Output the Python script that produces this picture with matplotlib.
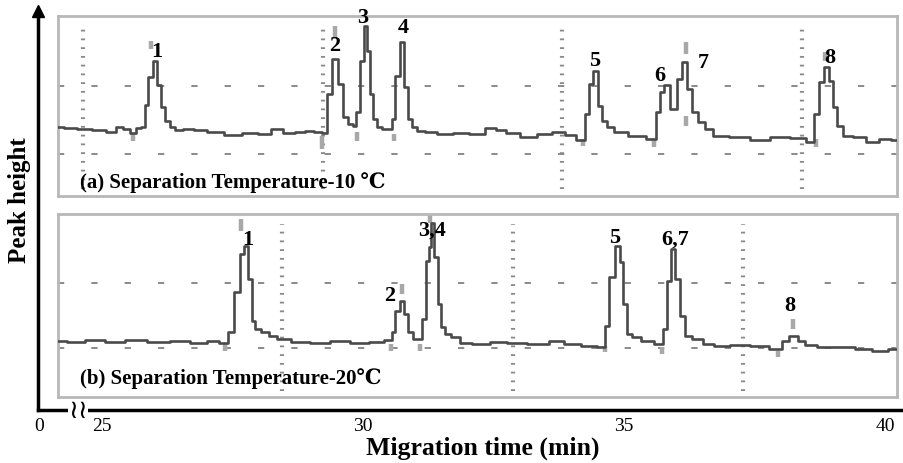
import matplotlib.pyplot as plt

plt.rcParams['font.family'] = ['Liberation Serif', 'DejaVu Serif', 'DejaVu Sans']
plt.rcParams['lines.scale_dashes'] = False

# (a) separation temperature 10 C : migration time (min) / signal (a.u.)
t_a = [24.16, 24.39, 24.67, 24.96, 25.19, 25.34, 25.48, 25.59, 25.71, 25.79,
       25.84, 25.92, 26.02, 26.09, 26.17, 26.25, 26.34, 26.46, 26.63, 26.88,
       27.16, 27.51, 27.84, 28.12, 28.35, 28.60, 28.79, 28.98, 29.14, 29.27,
       29.35, 29.46, 29.58, 29.66, 29.75, 29.85, 29.90, 29.98, 30.04, 30.11,
       30.17, 30.23, 30.31, 30.42, 30.54, 30.59, 30.65, 30.75, 30.82, 30.90,
       30.98, 31.09, 31.28, 31.57, 31.86, 32.20, 32.49, 32.62, 32.85, 33.16,
       33.49, 33.77, 33.97, 34.21, 34.29, 34.37, 34.46, 34.54, 34.62, 34.71,
       34.92, 35.25, 35.59, 35.65, 35.72, 35.82, 35.95, 36.07, 36.17, 36.26,
       36.36, 36.48, 36.61, 36.80, 37.22, 37.61, 37.99, 38.37, 38.60, 38.68,
       38.79, 38.89, 38.98, 39.04, 39.13, 39.27, 39.52, 39.77, 40.00, 40.23]
y_a = [69, 68, 67, 66, 64, 69, 67, 63, 68, 69,
       91, 119, 135, 111, 89, 75, 69, 66, 67, 66,
       64, 61, 63, 62, 67, 63, 64, 65, 64, 63,
       102, 137, 112, 79, 72, 70, 84, 135, 170, 145,
       102, 77, 69, 67, 67, 77, 120, 154, 109, 77,
       69, 65, 64, 62, 63, 62, 68, 66, 63, 59,
       62, 64, 61, 56, 82, 112, 125, 90, 75, 69,
       64, 60, 57, 84, 104, 111, 87, 117, 134, 107,
       84, 74, 67, 60, 59, 56, 59, 58, 54, 82,
       114, 129, 115, 89, 70, 60, 59, 54, 57, 56]

# (b) separation temperature 20 C
t_b = [24.16, 24.48, 24.87, 25.25, 25.63, 26.11, 26.49, 26.88, 27.16, 27.34,
       27.47, 27.59, 27.68, 27.76, 27.84, 27.89, 27.99, 28.12, 28.26, 28.45,
       28.79, 29.18, 29.56, 29.94, 30.29, 30.52, 30.59, 30.65, 30.75, 30.82,
       30.90, 31.00, 31.09, 31.17, 31.23, 31.28, 31.32, 31.40, 31.46, 31.53,
       31.61, 31.76, 31.95, 32.24, 32.62, 32.91, 33.39, 33.72, 34.00, 34.35,
       34.60, 34.67, 34.77, 34.87, 34.96, 35.02, 35.10, 35.21, 35.46, 35.69,
       35.79, 35.86, 35.94, 36.03, 36.11, 36.21, 36.40, 36.61, 36.84, 37.22,
       37.61, 37.95, 38.11, 38.20, 38.30, 38.37, 38.56, 38.85, 39.23, 39.62,
       39.90, 40.23]
y_b = [56, 55, 57, 55, 57, 55, 56, 54, 56, 54,
       65, 105, 143, 151, 118, 76, 68, 65, 61, 58,
       55, 54, 56, 54, 55, 57, 65, 86, 96, 83,
       65, 58, 58, 78, 136, 150, 174, 140, 93, 70,
       63, 60, 54, 53, 55, 54, 53, 56, 53, 51,
       50, 71, 120, 151, 135, 93, 63, 60, 56, 53,
       68, 116, 148, 118, 81, 61, 58, 53, 51, 52,
       51, 48, 56, 61, 61, 56, 52, 50, 50, 48,
       46, 48]

# peak labels
lab_a = ['1', '2', '3', '4', '5', '6', '7', '8']
lab_a_t = [26.05, 29.46, 30.00, 30.77, 34.44, 35.69, 36.51, 38.95]
lab_a_y = [145, 151, 179, 169, 136, 121, 134, 139]
lab_b = ['1', '2', '3,4', '5', '6,7', '8']
lab_b_t = [27.80, 30.52, 31.32, 34.83, 35.98, 38.18]
lab_b_y = [158, 102, 167, 160, 158, 92]

# integration marks (peak start / apex)
mark_a_t = [25.94, 29.46, 36.19, 36.19, 38.85, 25.59, 29.21, 29.89, 30.59, 34.21, 35.57, 38.68]
mark_a_lo = [147, 157, 142, 70, 135, 55, 47, 55, 55, 50, 49, 49]
mark_a_hi = [155, 170, 154, 80, 144, 62, 60, 64, 62, 57, 57, 57]
mark_b_t = [27.66, 30.75, 31.28, 38.24, 27.36, 30.54, 31.09, 34.64, 35.73, 37.95]
mark_b_lo = [166, 103, 174, 68, 46, 46, 46, 45, 43, 40]
mark_b_hi = [178, 113, 182, 78, 53, 53, 53, 51, 50, 46]

ticks = [23.80, 25, 30, 35, 40]
tick_labels = ['0', '25', '30', '35', '40']

W, H = 904, 464
fig = plt.figure(figsize=(W / 100, H / 100), dpi=100)

# outer frame with arrow and broken x axis
ax0 = fig.add_axes([38 / W, (H - 411) / H, (W - 38) / W, (411 - 12) / H])
ax0.set_xlim(23.774, 40.364)
ax0.set_ylim(0, 1)
ax0.patch.set_visible(False)
for s in ['top', 'right']:
    ax0.spines[s].set_visible(False)
for s in ['left', 'bottom']:
    ax0.spines[s].set_linewidth(2.5)
ax0.set_yticks([])
ax0.set_xticks(ticks, tick_labels)
ax0.tick_params(axis='x', length=0, pad=5, labelsize=14)
ax0.plot(0, 1, marker='^', color='k', ms=9, transform=ax0.transAxes, clip_on=False)
ax0.text(24.54, 0, '\u2240\u2240', family='DejaVu Sans', fontsize=19,
         ha='center', va='center', transform=ax0.get_xaxis_transform(),
         bbox=dict(facecolor='white', edgecolor='none', pad=0.3), zorder=5)

fig.text(20 / W, 1 - 200 / H, 'Peak height', rotation=90, ha='center', va='center',
         fontsize=18, fontweight='bold')
fig.text(483 / W, 1 - 455 / H, 'Migration time (min)', ha='center', va='baseline',
         fontsize=18.5, fontweight='bold')


def panel(top, bottom, t, y, ymax, hgrid, vgrid, vspan, labs, lt, ly, mt, mlo, mhi, title, ty):
    ax = fig.add_axes([58 / W, (H - bottom) / H, (897 - 58) / W, (bottom - top) / H])
    ax.set_xlim(24.157, 40.23)
    ax.set_ylim(0, ymax)
    ax.set_xticks([])
    ax.set_yticks([])
    for s in ax.spines.values():
        s.set_color('#b8b8b8')
        s.set_linewidth(2)
    for g in hgrid:
        ax.axhline(g, color='#8a8a8a', lw=1.4, dashes=(4.5, 19.5), dash_capstyle='butt',
                   zorder=1)
    for g in vgrid:
        ax.vlines(g, vspan[0], vspan[1], color='#8a8a8a', lw=3, linestyles=[(0, (1.3, 5))],
                  zorder=1)
    ax.vlines(mt, mlo, mhi, color='#a8a8a8', lw=3.2, zorder=2)
    ax.plot(t, y, color='#4a4a4a', lw=1.9, drawstyle='steps-mid', zorder=3)
    for s, xx, yy in zip(labs, lt, ly):
        ax.text(xx, yy, s, ha='center', va='center', fontsize=16, fontweight='bold',
                clip_on=False, zorder=4)
    ax.text(0.026, ty, title, transform=ax.transAxes, ha='left', va='center',
            fontsize=15, fontweight='bold')
    return ax


panel(17, 197, t_a, y_a, 180, [110, 42], [24.64, 29.23, 33.81, 38.41], (7, 170),
      lab_a, lab_a_t, lab_a_y, mark_a_t, mark_a_lo, mark_a_hi,
      '(a) Separation Temperature-10 \u2103', 0.078)
panel(215, 398, t_b, y_b, 183, [114, 49], [28.45, 32.87, 37.28], (6, 173),
      lab_b, lab_b_t, lab_b_y, mark_b_t, mark_b_lo, mark_b_hi,
      '(b) Separation Temperature-20\u2103', 0.104)

fig.savefig('out.png', dpi=100)
